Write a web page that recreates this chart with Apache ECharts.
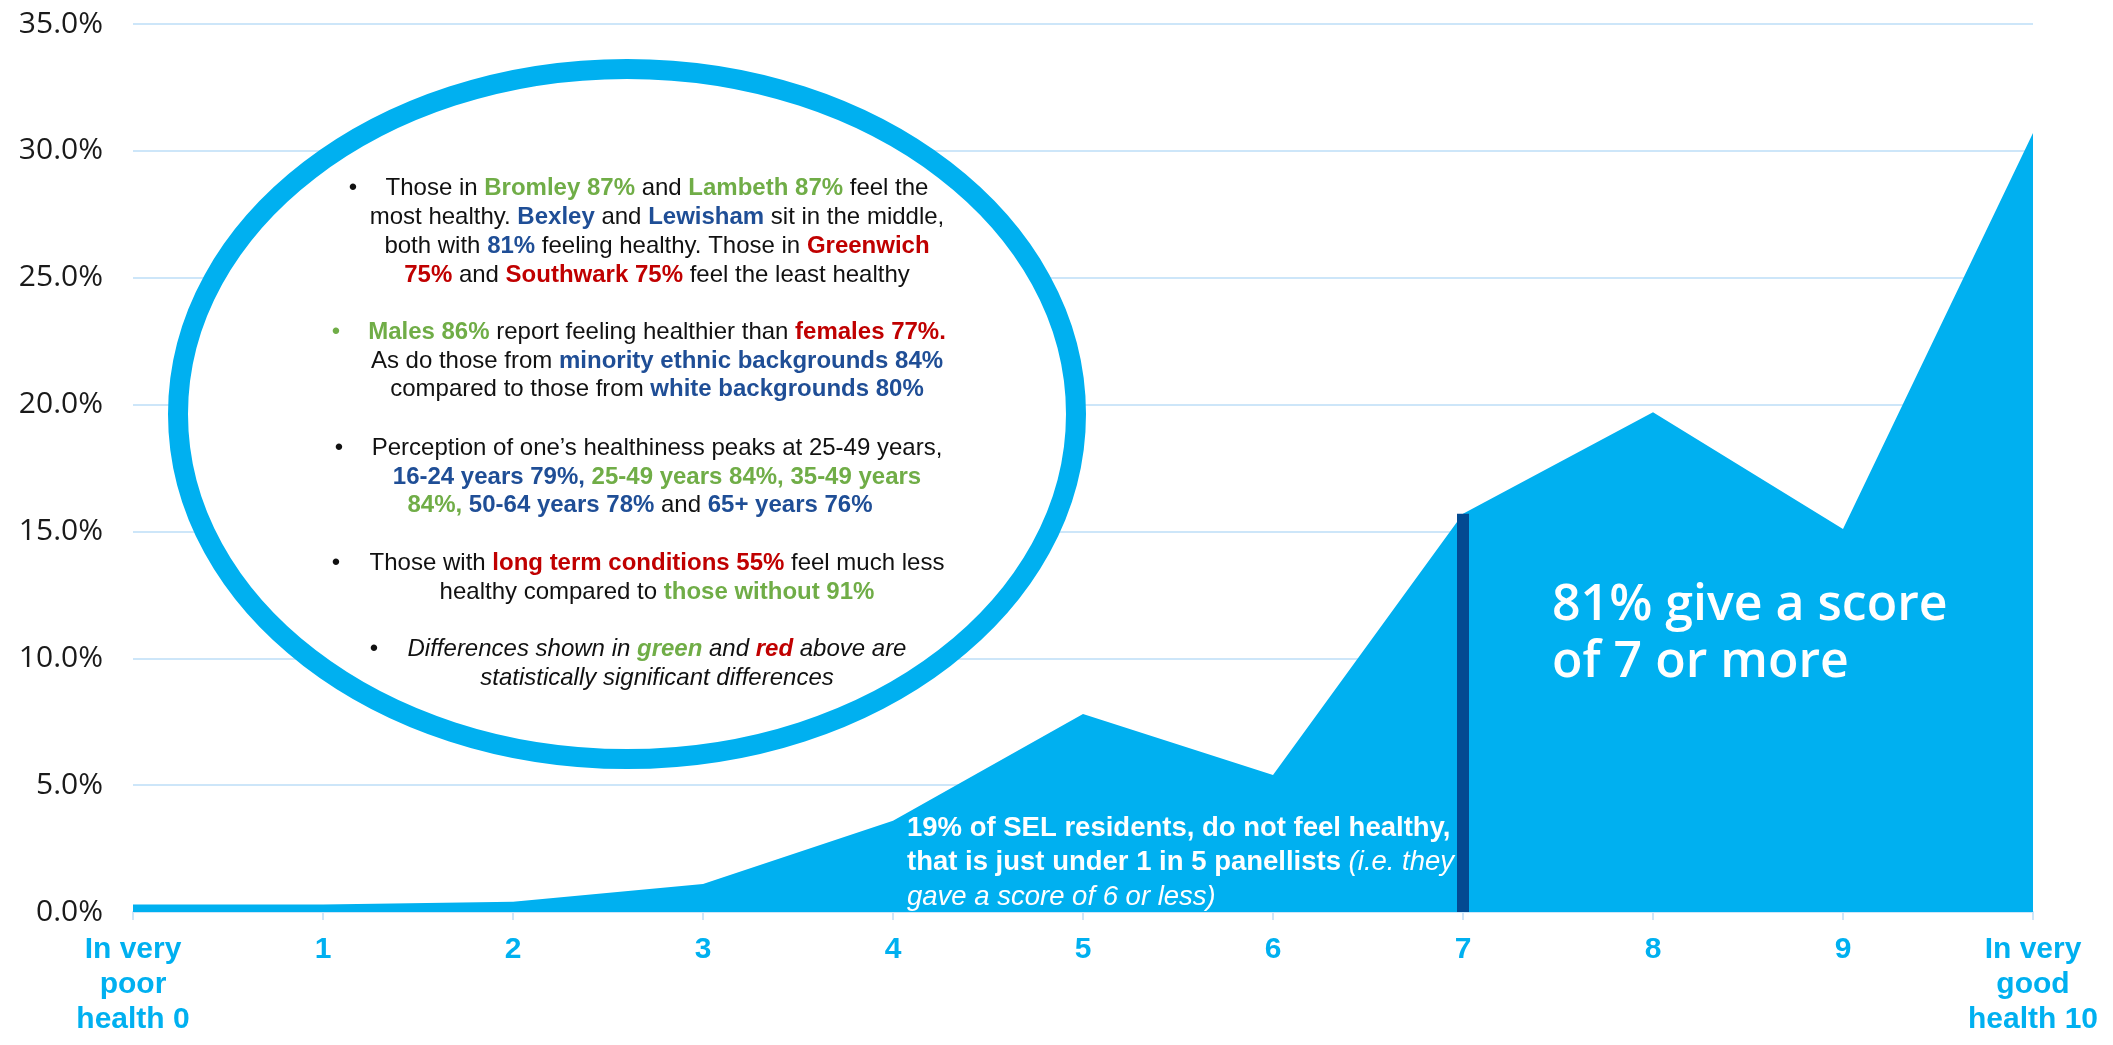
<!DOCTYPE html>
<html>
<head>
<meta charset="utf-8">
<title>Self-rated health scores</title>
<script src="https://cdn.jsdelivr.net/npm/echarts@6/dist/echarts.min.js"></script>
<style>
  html, body { margin: 0; padding: 0; background: #ffffff; }
  #chart { width: 2113px; height: 1045px; }
</style>
</head>
<body>
<div id="chart"></div>
<script>
// Share of panellists giving each health score (0 = very poor, 10 = very good), in %
const scoreLabels = ['In very\npoor\nhealth 0', '1', '2', '3', '4', '5', '6', '7', '8', '9', 'In very\ngood\nhealth 10'];
const scoreShares = [0.3, 0.3, 0.4, 1.1, 3.6, 7.8, 5.4, 15.7, 19.7, 15.1, 30.7];

// Value axis ticks (%)
const axisMin = 0;
const axisMax = 35;
const axisStep = 5;

// Score where the "healthy" group starts
const dividerIndex = 7;

// Palette
const SKY = '#00B0F0';
const NAVY = '#034A91';
const GRID = '#CDE6F9';
const GREEN = '#70AD47';
const BLUE = '#1F4E96';
const RED = '#C00000';
const INK = '#111111';

const ARIAL = '"Liberation Sans", Arial, Helvetica, sans-serif';
const ROUND = '"Open Sans", "Noto Sans", sans-serif';

// Findings written inside the oval, one entry per line
const noteLines = [
  { y: 188, bullet: 353, text: '{n|Those in }{g|Bromley 87%}{n| and }{g|Lambeth 87%}{n| feel the}' },
  { y: 217, text: '{n|most healthy. }{b|Bexley}{n| and }{b|Lewisham}{n| sit in the middle,}' },
  { y: 246, text: '{n|both with }{b|81%}{n| feeling healthy. Those in }{r|Greenwich}' },
  { y: 275, text: '{r|75%}{n| and }{r|Southwark 75%}{n| feel the least healthy}' },
  { y: 332, bullet: 336, bulletColor: GREEN, text: '{g|Males 86%}{n| report feeling healthier than }{r|females 77%.}' },
  { y: 361, text: '{n|As do those from }{b|minority ethnic backgrounds 84%}' },
  { y: 389, text: '{n|compared to those from }{b|white backgrounds 80%}' },
  { y: 448, bullet: 339, text: '{n|Perception of one\u2019s healthiness peaks at 25-49 years,}' },
  { y: 477, text: '{b|16-24 years 79%, }{g|25-49 years 84%, 35-49 years}' },
  { y: 505, x: 640, text: '{g|84%, }{b|50-64 years 78%}{n| and }{b|65+ years 76%}' },
  { y: 563, bullet: 336, text: '{n|Those with }{r|long term conditions 55%}{n| feel much less}' },
  { y: 592, text: '{n|healthy compared to }{g|those without 91%}' },
  { y: 649, bullet: 374, text: '{i|Differences shown in }{ig|green}{i| and }{ir|red}{i| above are}' },
  { y: 678, text: '{i|statistically significant differences}' }
];

const lowNote = [
  { y: 828, text: '{b|19% of SEL residents, do not feel healthy,}' },
  { y: 862, text: '{b|that is just under 1 in 5 panellists }{i|(i.e. they}' },
  { y: 897, text: '{i|gave a score of 6 or less)}' }
];

const highNote = [
  { y: 606, text: '81% give a score' },
  { y: 663, text: 'of 7 or more' }
];

function tok(fill, weight, style, size) {
  return { fill: fill, fontFamily: ARIAL, fontSize: size, fontWeight: weight, fontStyle: style };
}

const noteRich = {
  n: tok(INK, 'normal', 'normal', 24),
  g: tok(GREEN, 'bold', 'normal', 24),
  b: tok(BLUE, 'bold', 'normal', 24),
  r: tok(RED, 'bold', 'normal', 24),
  i: tok(INK, 'normal', 'italic', 24),
  ig: tok(GREEN, 'bold', 'italic', 24),
  ir: tok(RED, 'bold', 'italic', 24)
};

const lowRich = {
  b: tok('#ffffff', 'bold', 'normal', 27.5),
  i: tok('#ffffff', 'normal', 'italic', 27.5)
};

// White oval with a thick sky-blue outline holding the findings
const graphics = [
  {
    type: 'ellipse',
    z: 50,
    shape: { cx: 627, cy: 414, rx: 449, ry: 345 },
    style: { fill: '#ffffff', stroke: SKY, lineWidth: 20 }
  }
];

noteLines.forEach(function (line) {
  graphics.push({
    type: 'text', z: 60, x: line.x || 657, y: line.y,
    style: { text: line.text, rich: noteRich, align: 'center', verticalAlign: 'middle',
             fontFamily: ARIAL, fontSize: 24, fill: INK }
  });
  if (line.bullet) {
    graphics.push({
      type: 'text', z: 60, x: line.bullet, y: line.y,
      style: { text: '\u2022', align: 'center', verticalAlign: 'middle',
               fontFamily: ARIAL, fontSize: 24, fill: line.bulletColor || INK }
    });
  }
});

lowNote.forEach(function (line) {
  graphics.push({
    type: 'text', z: 60, x: 907, y: line.y,
    style: { text: line.text, rich: lowRich, align: 'left', verticalAlign: 'middle',
             fontFamily: ARIAL, fontSize: 27.5, fill: '#ffffff' }
  });
});

highNote.forEach(function (line) {
  graphics.push({
    type: 'text', z: 60, x: 1552, y: line.y,
    style: { text: line.text, align: 'left', verticalAlign: 'middle',
             fontFamily: ROUND, fontSize: 50, fontWeight: 600, fill: '#ffffff' }
  });
});

const chart = echarts.init(document.getElementById('chart'), null, { renderer: 'canvas' });

chart.setOption({
  animation: false,
  backgroundColor: '#ffffff',
  grid: { left: 133, right: 80, top: 24, bottom: 133, containLabel: false, outerBoundsMode: 'none' },
  xAxis: {
    type: 'category',
    data: scoreLabels,
    boundaryGap: false,
    axisLine: { show: true, lineStyle: { color: GRID, width: 2 } },
    axisTick: { show: true, length: 8, lineStyle: { color: GRID, width: 2 } },
    axisLabel: {
      interval: 0, margin: 20, color: SKY, fontFamily: ARIAL,
      fontWeight: 'bold', fontSize: 30, lineHeight: 35, align: 'center'
    },
    splitLine: { show: false }
  },
  yAxis: {
    type: 'value',
    min: axisMin,
    max: axisMax,
    interval: axisStep,
    axisLine: { show: false },
    axisTick: { show: false },
    axisLabel: {
      margin: 30, color: '#1a1a1a', fontFamily: ROUND, fontSize: 30,
      formatter: function (v) { return v.toFixed(1) + '%'; }
    },
    splitLine: { show: true, lineStyle: { color: GRID, width: 2 } }
  },
  series: [
    {
      type: 'line',
      data: scoreShares,
      symbol: 'none',
      smooth: false,
      lineStyle: { width: 0, color: SKY },
      areaStyle: { color: SKY, opacity: 1 },
      itemStyle: { color: SKY },
      emphasis: { disabled: true },
      silent: true,
      z: 3,
      markLine: {
        silent: true,
        symbol: ['none', 'none'],
        label: { show: false },
        emphasis: { disabled: true },
        lineStyle: { color: NAVY, width: 12, type: 'solid', opacity: 1 },
        data: [[
          { coord: [scoreLabels[dividerIndex], 0] },
          { coord: [scoreLabels[dividerIndex], scoreShares[dividerIndex]] }
        ]]
      }
    }
  ],
  graphic: graphics
});
</script>
</body>
</html>
